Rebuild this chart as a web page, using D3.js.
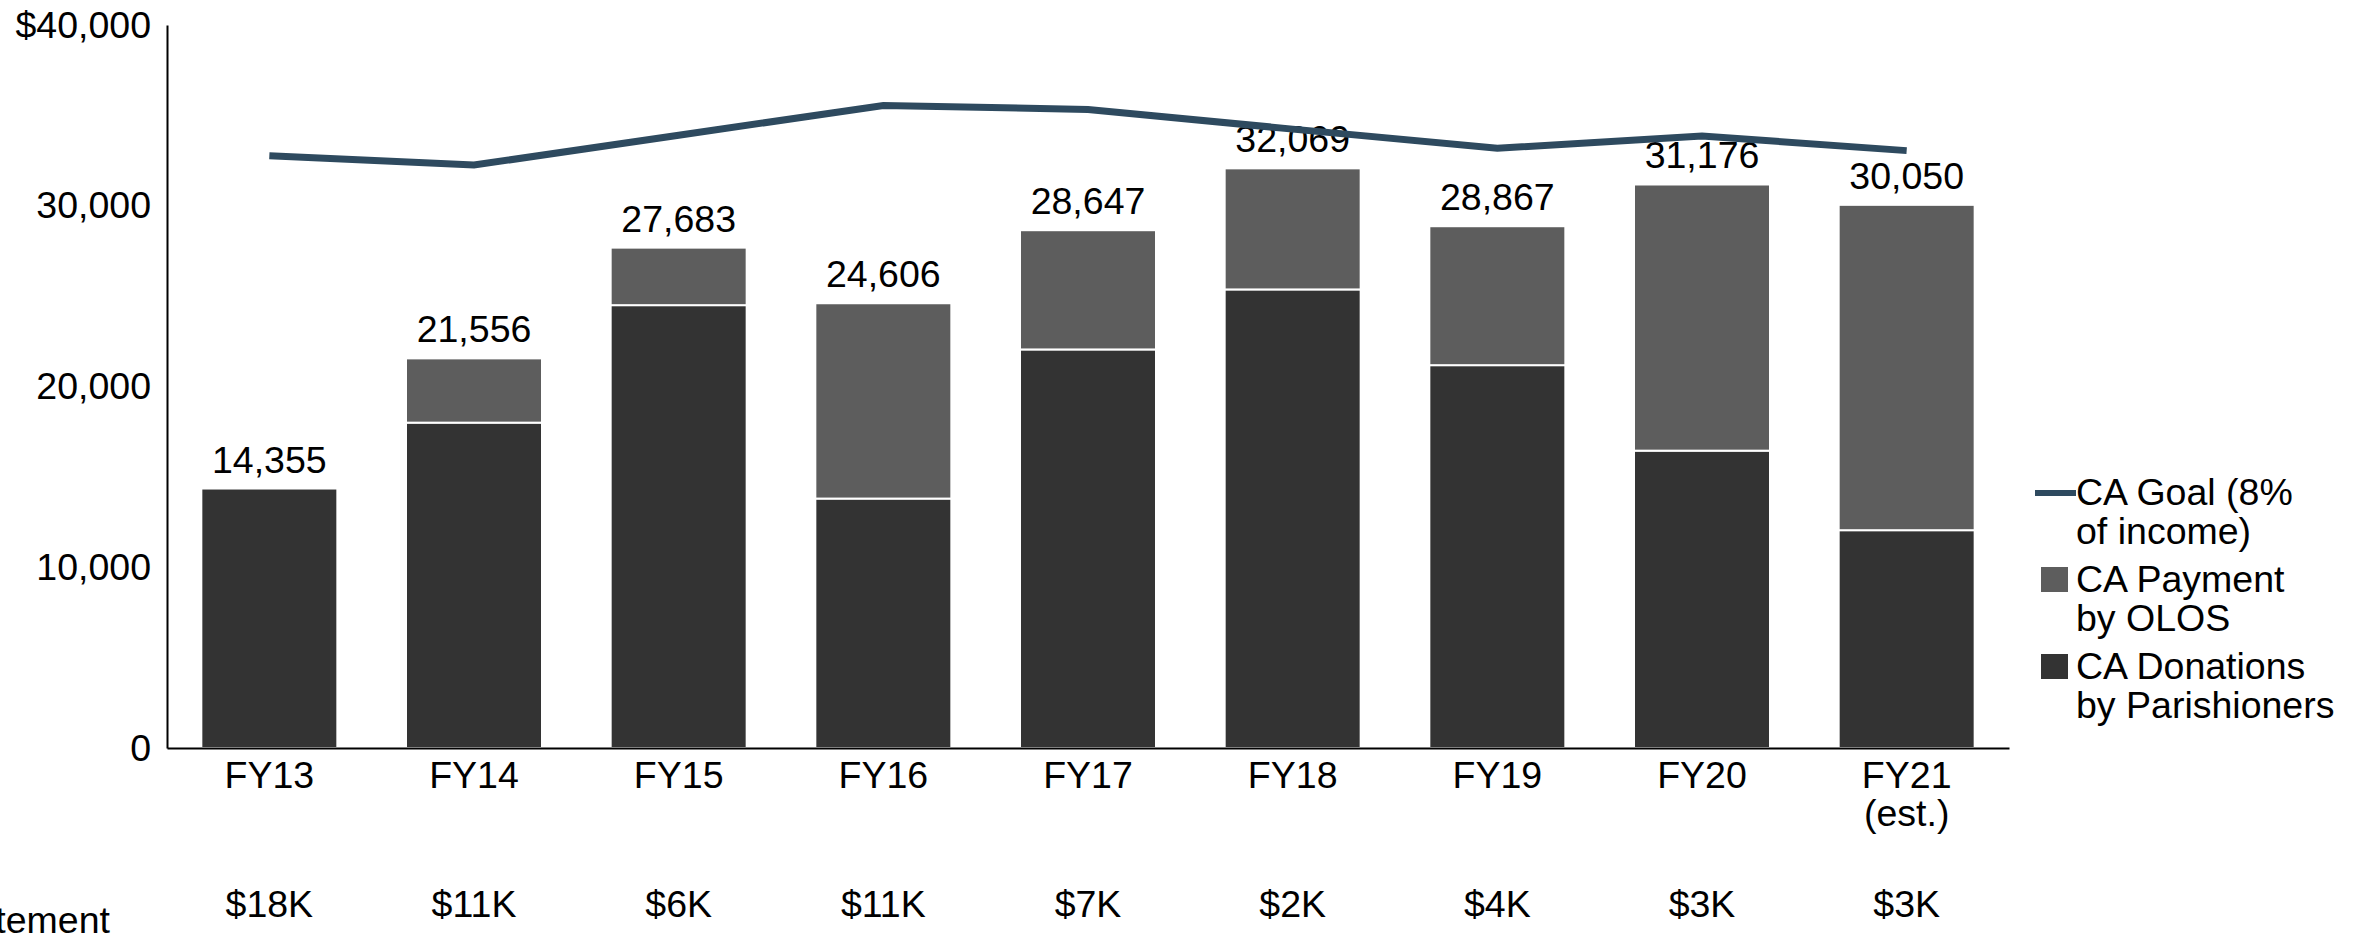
<!DOCTYPE html>
<html>
<head>
<meta charset="utf-8">
<script src="https://cdn.jsdelivr.net/npm/d3@7"></script>
<style>
  body { margin: 0; background: #fff; }
  svg { display: block; font-family: 'Liberation Sans', Arial, sans-serif; }
  .axis text { font-size: 37.5px; fill: #000; }
  .axis path { stroke: #000; stroke-width: 2px; }
</style>
</head>
<body>
<svg class="ca-chart"></svg>
<script>
const categories = ['FY13', 'FY14', 'FY15', 'FY16', 'FY17', 'FY18', 'FY19', 'FY20', 'FY21 (est.)']
const donations = [14355, 18000, 24500, 13800, 22050, 25370, 21180, 16450, 12050]
const olos = [0, 3556, 3183, 10806, 6597, 6699, 7687, 14726, 18000]
const goal = [32770, 32250, 33900, 35550, 35330, 34240, 33180, 33860, 33050]
const statement = ['$18K', '$11K', '$6K', '$11K', '$7K', '$2K', '$4K', '$3K', '$3K']
const yTicks = [0, 10000, 20000, 30000, 40000]
const seriesNames = ['CA Goal (8% of income)', 'CA Payment by OLOS', 'CA Donations by Parishioners']

function chart () {
  const w = 2354
  const h = 940
  const fs = 37.5
  const margin = { top: 25, left: 167, right: 345, bottom: 192 }
  const colors = { donations: '#333333', olos: '#5d5d5d', goal: '#2e4a5f' }
  const svg = d3.select('.ca-chart').attr('width', w).attr('height', h)

  const rows = categories.map((c, i) => ({ cat: c, donations: donations[i], olos: olos[i], goal: goal[i] }))

  const x = d3
    .scaleBand()
    .domain(categories)
    .range([margin.left, w - margin.right])
    .paddingInner(0.3355)
    .paddingOuter(0.16775)

  const y = d3
    .scaleLinear()
    .domain([0, 40000])
    .range([h - margin.bottom, margin.top])

  const fmt = d3.format(',')

  // stacked bars
  const stacked = d3.stack().keys(['donations', 'olos'])(rows)

  svg.append('g')
    .selectAll('g')
    .data(stacked)
    .join('g')
    .attr('fill', d => colors[d.key])
    .selectAll('rect')
    .data(d => d.filter(p => p[1] > p[0]))
    .join('rect')
    .attr('x', d => x(d.data.cat))
    .attr('width', x.bandwidth())
    .attr('y', d => y(d[1]))
    .attr('height', d => y(d[0]) - y(d[1]))
    .attr('stroke', '#fff')
    .attr('stroke-width', 2)

  // totals above bars
  svg.append('g')
    .selectAll('text')
    .data(rows)
    .join('text')
    .attr('x', d => x(d.cat) + x.bandwidth() / 2)
    .attr('y', d => y(d.donations + d.olos) - 16)
    .attr('text-anchor', 'middle')
    .attr('font-size', fs)
    .text(d => fmt(d.donations + d.olos))

  // goal line
  const line = d3
    .line()
    .x(d => x(d.cat) + x.bandwidth() / 2)
    .y(d => y(d.goal))

  svg.append('path')
    .datum(rows)
    .attr('fill', 'none')
    .attr('stroke', colors.goal)
    .attr('stroke-width', 7)
    .attr('d', line)

  // axes
  const axisY = d3
    .axisLeft(y)
    .tickValues(yTicks)
    .tickSize(0)
    .tickPadding(16)
    .tickFormat(d => d === 40000 ? '$' + fmt(d) : fmt(d))

  svg.append('g')
    .attr('class', 'axis axis-y')
    .attr('transform', `translate(${margin.left},0)`)
    .call(axisY)

  const axisX = d3
    .axisBottom(x)
    .tickSize(0)
    .tickFormat(d => d)

  const gx = svg.append('g')
    .attr('class', 'axis axis-x')
    .attr('transform', `translate(0,${h - margin.bottom})`)
    .call(axisX)

  gx.selectAll('.tick text')
    .attr('y', 40)
    .attr('dy', null)
    .each(function (d) {
      const t = d3.select(this)
      const parts = d.split(' ')
      t.text(null)
      parts.forEach((p, i) => {
        t.append('tspan')
          .attr('x', 0)
          .attr('dy', i === 0 ? 0 : 38)
          .text(p)
      })
    })

  // statement row
  svg.append('g')
    .selectAll('text')
    .data(statement)
    .join('text')
    .attr('x', (d, i) => x(categories[i]) + x.bandwidth() / 2)
    .attr('y', 917)
    .attr('text-anchor', 'middle')
    .attr('font-size', fs)
    .text(d => d)

  svg.append('text')
    .attr('x', 110)
    .attr('y', 933)
    .attr('text-anchor', 'end')
    .attr('font-size', fs)
    .text('tement')

  // legend
  const legend = svg.append('g').attr('transform', 'translate(2035,0)')
  const items = [
    { key: 'goal', y: 505 },
    { key: 'olos', y: 592 },
    { key: 'donations', y: 679 }
  ]

  items.forEach((it, i) => {
    const g = legend.append('g')
    if (it.key === 'goal') {
      g.append('line')
        .attr('x1', 0)
        .attr('x2', 41)
        .attr('y1', it.y - 12)
        .attr('y2', it.y - 12)
        .attr('stroke', colors.goal)
        .attr('stroke-width', 6)
    } else {
      g.append('rect')
        .attr('x', 6)
        .attr('y', it.y - 25)
        .attr('width', 27)
        .attr('height', 25)
        .attr('fill', colors[it.key])
    }
    const words = seriesNames[i].split(' ')
    const first = words.slice(0, 2).join(' ') + (i === 0 ? ' ' + words[2] : '')
    const second = words.slice(i === 0 ? 3 : 2).join(' ')
    const t = g.append('text')
      .attr('x', 41)
      .attr('y', it.y)
      .attr('font-size', fs)
    t.append('tspan').attr('x', 41).text(first)
    t.append('tspan').attr('x', 41).attr('dy', 39).text(second)
  })
}

chart()
</script>
</body>
</html>
